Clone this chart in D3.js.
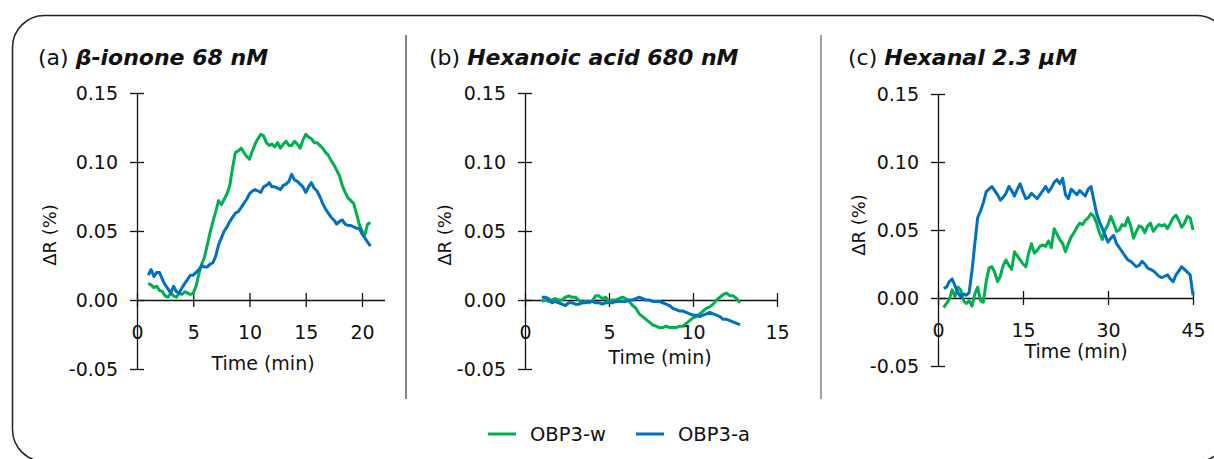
<!DOCTYPE html>
<html>
<head>
<meta charset="utf-8">
<script src="https://cdn.jsdelivr.net/npm/d3@7"></script>
<style>
  body { margin: 0; background: #fff; }
  svg text { font-family: "DejaVu Sans", sans-serif; fill: #111; }
</style>
</head>
<body>
<div id="chart"></div>
<script>
// series (delta R, %), sampled on a regular time grid
var aStart = 1.0, aStep = 0.25;
var aGreen = [
  0.012, 0.011, 0.009, 0.010,  0.007, 0.006, 0.003, 0.002,
  0.005, 0.003, 0.002, 0.005,  0.004, 0.006, 0.005, 0.004,
  0.005, 0.010, 0.019, 0.026,  0.031, 0.040, 0.049, 0.057,
  0.064, 0.072, 0.069, 0.073,  0.077, 0.083, 0.096, 0.107,
  0.108, 0.110, 0.107, 0.104,  0.102, 0.108, 0.113, 0.117,
  0.120, 0.119, 0.114, 0.112,  0.113, 0.111, 0.114, 0.110,
  0.113, 0.115, 0.112, 0.112,  0.115, 0.113, 0.110, 0.116,
  0.120, 0.118, 0.117, 0.114,  0.114, 0.112, 0.110, 0.107,
  0.105, 0.101, 0.098, 0.094,  0.090, 0.083, 0.078, 0.074,
  0.072, 0.070, 0.063, 0.055,  0.050, 0.047, 0.055, 0.056
];
var aBlue = [
  0.018, 0.022, 0.017, 0.020,  0.020, 0.015, 0.011, 0.008,
  0.005, 0.010, 0.006, 0.005,  0.009, 0.012, 0.015, 0.018,
  0.018, 0.020, 0.022, 0.025,  0.024, 0.024, 0.026, 0.027,
  0.032, 0.040, 0.045, 0.050,  0.053, 0.057, 0.060, 0.063,
  0.064, 0.067, 0.070, 0.073,  0.077, 0.079, 0.080, 0.079,
  0.078, 0.082, 0.083, 0.085,  0.082, 0.082, 0.081, 0.080,
  0.083, 0.084, 0.086, 0.091,  0.087, 0.086, 0.084, 0.082,
  0.078, 0.082, 0.085, 0.081,  0.079, 0.075, 0.070, 0.066,
  0.063, 0.060, 0.058, 0.055,  0.057, 0.058, 0.055, 0.054,
  0.054, 0.053, 0.052, 0.052,  0.048, 0.045, 0.042, 0.039
];

var bStart = 1.0, bStep = 0.2;
var bGreen = [
  -0.001, 0.000, -0.001, 0.000, 0.001,
  0.000, 0.000, 0.002, 0.003, 0.002,
  0.002, 0.000, -0.002, -0.001, -0.002,
  -0.001, 0.003, 0.003, 0.001, 0.002,
  -0.001, 0.000, 0.000, 0.001, 0.002,
  0.001, -0.001, -0.004, -0.006, -0.010,
  -0.012, -0.014, -0.016, -0.018, -0.019,
  -0.020, -0.020, -0.019, -0.020, -0.020,
  -0.020, -0.019, -0.019, -0.017, -0.015,
  -0.013, -0.012, -0.010, -0.008, -0.006,
  -0.005, -0.003, 0.000, 0.002, 0.004,
  0.005, 0.003, 0.003, 0.001, -0.002
];
var bBlue = [
  0.002, 0.002, 0.001, -0.002, -0.001,
  -0.002, -0.003, -0.004, -0.002, -0.002,
  -0.003, -0.003, -0.002, -0.002, -0.001,
  -0.001, -0.002, -0.002, -0.003, -0.002,
  -0.002, -0.002, -0.001, -0.001, -0.001,
  -0.001, 0.000, 0.000, 0.001, 0.002,
  0.001, 0.000, 0.000, -0.001, -0.001,
  -0.001, -0.002, -0.003, -0.004, -0.006,
  -0.007, -0.008, -0.008, -0.009, -0.010,
  -0.011, -0.011, -0.012, -0.011, -0.010,
  -0.009, -0.010, -0.011, -0.012, -0.014,
  -0.014, -0.015, -0.016, -0.017, -0.018
];

var cStart = 1.0, cStep = 0.5;
var cGreen = [
  -0.007, -0.004, -0.001, 0.006, 0.001, 0.008, 0.006, -0.002, -0.004, -0.002,
  -0.006, 0.003, 0.008, -0.002, -0.003, 0.012, 0.022, 0.023, 0.019, 0.012,
  0.016, 0.024, 0.028, 0.024, 0.021, 0.034, 0.031, 0.028, 0.025, 0.023,
  0.033, 0.040, 0.033, 0.035, 0.038, 0.039, 0.038, 0.042, 0.037, 0.051,
  0.047, 0.043, 0.040, 0.034, 0.040, 0.045, 0.048, 0.052, 0.055, 0.054,
  0.057, 0.059, 0.062, 0.060, 0.055, 0.048, 0.043, 0.050, 0.054, 0.060,
  0.055, 0.049, 0.050, 0.054, 0.053, 0.059, 0.053, 0.044, 0.049, 0.053,
  0.052, 0.048, 0.053, 0.055, 0.049, 0.052, 0.054, 0.053, 0.054, 0.051,
  0.055, 0.059, 0.061, 0.057, 0.052, 0.055, 0.060, 0.059, 0.050
];
var cBlue = [
  0.007, 0.008, 0.012, 0.014, 0.009, 0.004, 0.001, 0.003, 0.002, 0.004,
  0.020, 0.040, 0.059, 0.064, 0.070, 0.078, 0.080, 0.082, 0.079, 0.076,
  0.072, 0.074, 0.077, 0.082, 0.079, 0.075, 0.080, 0.084, 0.078, 0.073,
  0.074, 0.077, 0.075, 0.073, 0.076, 0.079, 0.082, 0.078, 0.081, 0.085,
  0.087, 0.084, 0.088, 0.076, 0.073, 0.080, 0.078, 0.076, 0.079, 0.077,
  0.075, 0.080, 0.082, 0.072, 0.062, 0.056, 0.051, 0.046, 0.041, 0.044,
  0.046, 0.040, 0.037, 0.034, 0.031, 0.028, 0.027, 0.025, 0.023, 0.024,
  0.027, 0.025, 0.022, 0.021, 0.020, 0.018, 0.016, 0.015, 0.016, 0.017,
  0.014, 0.012, 0.017, 0.020, 0.023, 0.021, 0.019, 0.017, 0.002
];

var yTicks = [-0.05, 0.00, 0.05, 0.10, 0.15];
var aXTicks = [0, 5, 10, 15, 20];
var bXTicks = [0, 5, 10, 15];
var cXTicks = [0, 15, 30, 45];
var seriesNames = ["OBP3-w", "OBP3-a"];
var seriesColors = ["#00B050", "#0070C0"];

var width = 1214, height = 459;
var svg = d3.select("#chart").append("svg")
    .attr("width", width)
    .attr("height", height);

// outer rounded frame
svg.append("rect")
    .attr("x", 12.5).attr("y", 15.5)
    .attr("width", 1216).attr("height", 446)
    .attr("rx", 32)
    .attr("fill", "none")
    .attr("stroke", "#222")
    .attr("stroke-width", 1.5);

// panel separators
svg.append("line").attr("x1", 406).attr("x2", 406).attr("y1", 35).attr("y2", 399)
    .attr("stroke", "#333").attr("stroke-width", 1.2);
svg.append("line").attr("x1", 821).attr("x2", 821).attr("y1", 35).attr("y2", 399)
    .attr("stroke", "#a0a0a0").attr("stroke-width", 2);

var panels = [
  { label: "(a) ", name: "\u03B2-ionone 68 nM", titleX: 38,
    xMax: 22, xRange: [137, 384.5], yRange: [369, 93], xTicks: aXTicks,
    start: aStart, step: aStep, green: aGreen, blue: aBlue,
    yLabelX: 50, yLabelY: 235, xLabelX: 263, xLabelY: 370 },
  { label: "(b) ", name: "Hexanoic acid 680 nM", titleX: 429,
    xMax: 15, xRange: [525, 777], yRange: [369, 93], xTicks: bXTicks,
    start: bStart, step: bStep, green: bGreen, blue: bBlue,
    yLabelX: 445, yLabelY: 235, xLabelX: 660, xLabelY: 364 },
  { label: "(c) ", name: "Hexanal 2.3 \u00B5M", titleX: 848,
    xMax: 45, xRange: [938, 1193], yRange: [366, 94], xTicks: cXTicks,
    start: cStart, step: cStep, green: cGreen, blue: cBlue,
    yLabelX: 859, yLabelY: 225, xLabelX: 1076, xLabelY: 358 }
];

panels.forEach(function(p){
    var x = d3.scaleLinear().domain([0, p.xMax]).range(p.xRange);
    var y = d3.scaleLinear().domain([-0.05, 0.15]).range(p.yRange);

    // title
    var t = svg.append("text")
        .attr("x", p.titleX).attr("y", 65)
        .style("font-size", "22px");
    t.append("tspan").text(p.label);
    t.append("tspan").text(p.name)
        .style("font-weight", "bold")
        .style("font-style", "italic");

    // y axis, ticks crossing the line
    var gy = svg.append("g")
        .attr("transform", "translate(" + x(0) + ",0)")
        .call(d3.axisLeft(y).tickValues(yTicks).tickSize(7).tickSizeOuter(0).tickPadding(12)
            .tickFormat(function(d){ return d.toFixed(2); }));
    gy.selectAll(".tick line").attr("x1", 7);
    gy.selectAll("text").style("font-size", "19px").attr("fill", "#111");
    gy.select(".domain").attr("stroke", "#111").attr("stroke-width", 1.3);
    gy.selectAll(".tick line").attr("stroke", "#111").attr("stroke-width", 1.3);

    // x axis at zero
    var gx = svg.append("g")
        .attr("transform", "translate(0," + y(0) + ")")
        .call(d3.axisBottom(x).tickValues(p.xTicks).tickSize(7).tickSizeOuter(0).tickPadding(19));
    gx.selectAll(".tick line").attr("y1", -7);
    gx.selectAll("text").style("font-size", "19px").attr("fill", "#111");
    gx.select(".domain").attr("stroke", "#111").attr("stroke-width", 1.3);
    gx.selectAll(".tick line").attr("stroke", "#111").attr("stroke-width", 1.3);

    // axis titles
    svg.append("text")
        .attr("transform", "translate(" + p.yLabelX + "," + p.yLabelY + ") rotate(-90)")
        .attr("dy", "0.35em")
        .style("text-anchor", "middle")
        .style("font-size", "18px")
        .text("\u0394R (%)");
    svg.append("text")
        .attr("x", p.xLabelX).attr("y", p.xLabelY)
        .style("text-anchor", "middle")
        .style("font-size", "19px")
        .text("Time (min)");

    var line = d3.line()
        .x(function(d, i){ return x(p.start + i * p.step); })
        .y(function(d){ return y(d); });

    [p.green, p.blue].forEach(function(s, k){
        svg.append("path")
            .datum(s)
            .attr("d", line)
            .attr("fill", "none")
            .attr("stroke", seriesColors[k])
            .attr("stroke-width", 3)
            .attr("stroke-linejoin", "round");
    });
});

// legend
var legendX = [488, 636];
seriesNames.forEach(function(name, k){
    svg.append("line")
        .attr("x1", legendX[k]).attr("x2", legendX[k] + 28)
        .attr("y1", 434).attr("y2", 434)
        .attr("stroke", seriesColors[k])
        .attr("stroke-width", 3);
    svg.append("text")
        .attr("x", legendX[k] + 42).attr("y", 441)
        .style("font-size", "19.5px")
        .text(name);
});
</script>
</body>
</html>
